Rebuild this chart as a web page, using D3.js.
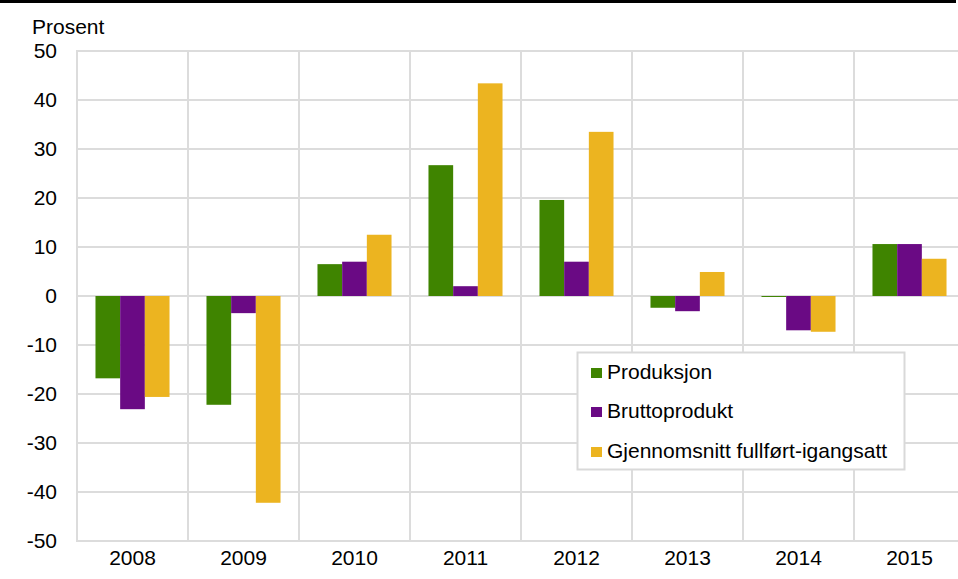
<!DOCTYPE html>
<html><head><meta charset="utf-8">
<script src="https://cdn.jsdelivr.net/npm/d3@7"></script>
<style>body{margin:0;background:#fff}svg{display:block;font-family:"Liberation Sans",Arial,sans-serif}</style>
</head><body><svg id="c" width="958" height="579"></svg>
<script>
const years = ["2008","2009","2010","2011","2012","2013","2014","2015"];
const seriesNames = ["Produksjon","Bruttoprodukt","Gjennomsnitt fullført-igangsatt"];
const produksjon = [-16.8,-22.2,6.5,26.7,19.6,-2.4,-0.2,10.6];
const bruttoprodukt = [-23.1,-3.5,7.0,2.0,7.0,-3.1,-7.0,10.6];
const gjennomsnitt = [-20.6,-42.2,12.5,43.4,33.5,4.9,-7.3,7.6];
const yTicks = [50,40,30,20,10,0,-10,-20,-30,-40,-50];
const colors = ["#3f8400","#6a0a84","#ecb420"];
const seriesVals = [produksjon,bruttoprodukt,gjennomsnitt];
const FS = 21;
const FF = "Liberation Sans, Arial, sans-serif";

const svg = d3.select("#c");
const x = d3.scaleBand().domain(years).range([77, 965]).paddingInner(0).paddingOuter(0);
const y = d3.scaleLinear().domain([-50,50]).range([541, 51]);
const gw = x.bandwidth()*0.667;
const bx = d3.scaleBand().domain(d3.range(3)).range([(x.bandwidth()-gw)/2,(x.bandwidth()+gw)/2]);

// top rule
svg.append("rect").attr("x",0).attr("y",0).attr("width",956).attr("height",3).attr("fill","#000");

// grid
const grid = svg.append("g").attr("stroke","#dcdcdc").attr("stroke-width",2);
yTicks.forEach(t=>grid.append("line").attr("x1",77).attr("x2",965).attr("y1",y(t)).attr("y2",y(t)));
years.forEach((yr,i)=>grid.append("line").attr("x1",x(yr)).attr("x2",x(yr)).attr("y1",y(50)-1).attr("y2",y(-50)+1));

// bars
seriesVals.forEach((vals,si)=>{
  svg.append("g").selectAll("rect").data(vals).join("rect")
    .attr("x",(d,i)=>x(years[i])+bx(si))
    .attr("width",bx.bandwidth())
    .attr("y",d=>y(Math.max(0,d)))
    .attr("height",d=>Math.abs(y(d)-y(0)))
    .attr("fill",colors[si]);
});

// y axis labels
const yAxis = d3.axisLeft(y).tickValues(yTicks).tickSize(0).tickPadding(0).tickFormat(d=>String(d));
const ya = svg.append("g").attr("transform","translate(57,0)").call(yAxis);
ya.select(".domain").remove();
ya.attr("font-size",FS).attr("font-family",FF);
ya.selectAll("text").attr("fill","#000");

// x axis labels
const xAxis = d3.axisBottom(x).tickSize(0).tickPadding(0);
const xa = svg.append("g").attr("transform","translate(0,550)").call(xAxis);
xa.select(".domain").remove();
xa.attr("font-size",FS).attr("font-family",FF);
xa.selectAll("text").attr("fill","#000");

svg.append("text").attr("x",32).attr("y",34).attr("font-size",FS).attr("font-family",FF).text("Prosent");

// legend
const lg = svg.append("g");
lg.append("rect").attr("x",577.5).attr("y",352.5).attr("width",327).attr("height",117).attr("fill","#fff").attr("stroke","#d9d9d9").attr("stroke-width",2);
const rowBase = [379,418,458];
seriesNames.forEach((n,i)=>{
  lg.append("rect").attr("x",591).attr("y",rowBase[i]-11).attr("width",11).attr("height",10).attr("fill",colors[i]);
  lg.append("text").attr("x",607).attr("y",rowBase[i]).attr("font-size",FS).attr("font-family",FF).text(n);
});
</script></body></html>
